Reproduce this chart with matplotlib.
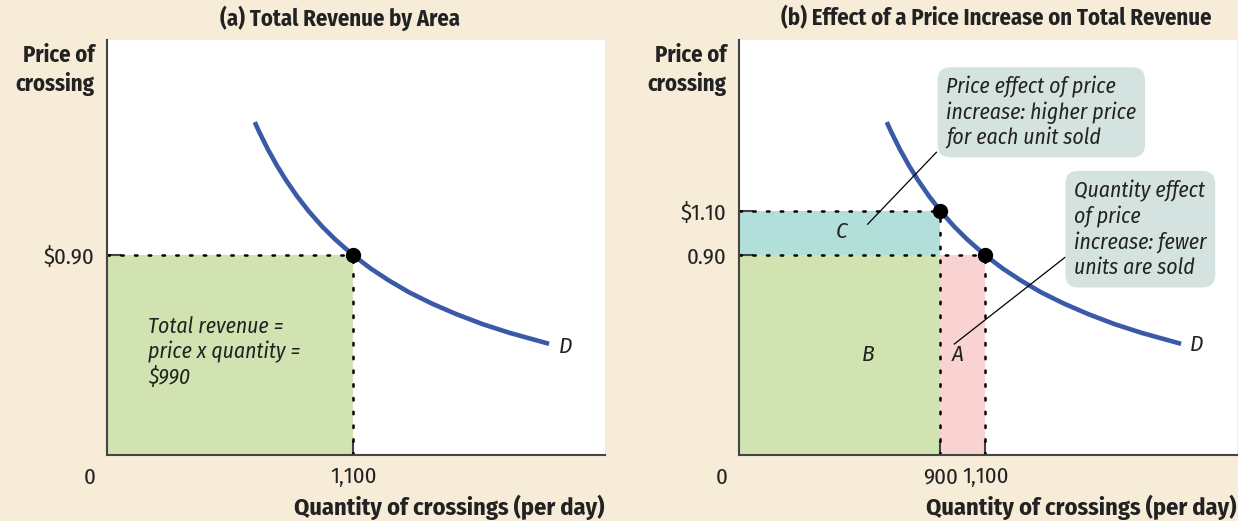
import matplotlib
matplotlib.use("Agg")
import matplotlib.pyplot as plt
from matplotlib import font_manager

# ---------------- data ----------------
demand_q = [660, 680, 720, 760, 800, 850, 900, 960, 1020, 1100, 1180, 1260,
            1350, 1450, 1560, 1680, 1800, 1975]
demand_p = [1.50, 1.456, 1.375, 1.303, 1.238, 1.165, 1.10, 1.031, 0.971, 0.90,
            0.839, 0.786, 0.733, 0.683, 0.635, 0.589, 0.55, 0.501]

q_low, q_high = 900, 1100
p_low, p_high = 0.90, 1.10

titles = ["(a) Total Revenue by Area",
          "(b) Effect of a Price Increase on Total Revenue"]
ylab = "Price of\ncrossing"
xlab = "Quantity of crossings (per day)"
revenue_text = "Total revenue =\nprice x quantity =\n$990"
box1_text = "Price effect of price\nincrease: higher price\nfor each unit sold"
box2_text = "Quantity effect\nof price\nincrease: fewer\nunits are sold"

# ---------------- style ----------------
names = {f.name for f in font_manager.fontManager.ttflist}
fams = [f for f in ["Fira Sans Condensed", "Roboto Condensed"] if f in names]
plt.rcParams["font.family"] = fams[:1] + ["DejaVu Sans"]
FS_T = 16.3     # titles / y label
FS_X = 17.5     # x label
FS_I = 15.6     # italic annotations
FS_K = 16.5     # tick labels

BG = "#f6ecd8"
GREEN = "#d0e3b0"
CYAN = "#b2dfda"
PINK = "#f9d3d2"
BOX = "#d5e3e0"
BLUE = "#3a5aa8"
SPINE = "#444444"
TXT = "#222222"

W, H = 1238, 521
fig = plt.figure(figsize=(W / 100, H / 100), dpi=100, facecolor=BG)

XMAX, YMAX = 2225, 1.87


def make_axes(left_px):
    ax = fig.add_axes([left_px / W, (H - 455) / H, 498 / W, 415 / H])
    ax.set_xlim(0, XMAX)
    ax.set_ylim(0, YMAX)
    ax.set_facecolor("white")
    for s in ["top", "right"]:
        ax.spines[s].set_visible(False)
    for s in ["left", "bottom"]:
        ax.spines[s].set_color(SPINE)
        ax.spines[s].set_linewidth(1.5)
        ax.spines[s].set_zorder(6)
    ax.tick_params(direction="in", length=10, width=1.5, color=SPINE,
                   labelsize=FS_K, labelcolor=TXT)
    ax.tick_params(axis="x", pad=8)
    ax.tick_params(axis="y", pad=9)
    ax.text(-0.035, -0.055, "0", transform=ax.transAxes, ha="center", va="center",
            fontsize=FS_K, color=TXT)
    ax.text(1.0, -0.125, xlab, transform=ax.transAxes, ha="right", va="center",
            fontsize=FS_X, fontweight="bold", color=TXT)
    ax.text(-0.025, 0.99, ylab, transform=ax.transAxes, ha="right", va="top",
            fontsize=FS_T, fontweight="bold", color=TXT, linespacing=1.25)
    return ax


dot_kw = dict(color="black", linestyle=(0, (1, 4.5)), linewidth=1.8,
              dash_capstyle="round", zorder=4)

# ---------------- panel (a) ----------------
axa = make_axes(107)
axa.fill_between([0, q_high], 0, p_low, color=GREEN, linewidth=0, zorder=1)
axa.plot([0, q_high], [p_low, p_low], **dot_kw)
axa.plot([q_high, q_high], [0, p_low], **dot_kw)
axa.plot(demand_q, demand_p, color=BLUE, linewidth=3.3, solid_capstyle="butt", zorder=3)
axa.plot([q_high], [p_low], "o", color="black", markersize=10, zorder=5)
axa.set_xticks([q_high])
axa.set_xticklabels(["1,100"])
axa.set_yticks([p_low])
axa.set_yticklabels(["$0.90"])
axa.text(2048, 0.486, "D", fontsize=FS_K, style="italic", ha="center", va="center", color=TXT)
axa.text(183, 0.464, revenue_text, fontsize=FS_I, style="italic", ha="left",
         va="center", linespacing=1.2, color=TXT)

# ---------------- panel (b) ----------------
axb = make_axes(739)
axb.fill_between([0, q_low], 0, p_low, color=GREEN, linewidth=0, zorder=1)
axb.fill_between([0, q_low], p_low, p_high, color=CYAN, linewidth=0, zorder=1)
axb.fill_between([q_low, q_high], 0, p_low, color=PINK, linewidth=0, zorder=1)
axb.plot([0, q_low], [p_high, p_high], **dot_kw)
axb.plot([0, q_high], [p_low, p_low], **dot_kw)
axb.plot([q_low, q_low], [0, p_high], **dot_kw)
axb.plot([q_high, q_high], [0, p_low], **dot_kw)
axb.plot(demand_q, demand_p, color=BLUE, linewidth=3.3, solid_capstyle="butt", zorder=3)
axb.plot([q_low, q_high], [p_high, p_low], "o", color="black", markersize=10,
         linestyle="none", zorder=5)
axb.set_xticks([q_low, q_high])
axb.set_xticklabels(["900", "1,100"])
axb.set_yticks([p_low, p_high])
axb.set_yticklabels(["0.90", "$1.10"])
axb.text(2045, 0.495, "D", fontsize=FS_K, style="italic", ha="center", va="center", color=TXT)
axb.text(459, 1.004, "C", fontsize=FS_K, style="italic", ha="center", va="center", color=TXT)
axb.text(575, 0.45, "B", fontsize=FS_K, style="italic", ha="center", va="center", color=TXT)
axb.text(975, 0.45, "A", fontsize=FS_K, style="italic", ha="center", va="center", color=TXT)

# leader lines
axb.plot([882, 575], [1.364, 1.04], color="black", linewidth=0.9, zorder=4)
axb.plot([1457, 962], [0.891, 0.50], color="black", linewidth=0.9, zorder=4)

box_kw = dict(boxstyle="round,pad=0.4,rounding_size=0.6", fc=BOX, ec="none")
axb.text(926, 1.544, box1_text, fontsize=FS_I, style="italic", ha="left",
         va="center", linespacing=1.18, color=TXT, bbox=box_kw, zorder=7)
axb.text(1497, 1.017, box2_text, fontsize=FS_I, style="italic", ha="left",
         va="center", linespacing=1.22, color=TXT, bbox=box_kw, zorder=7)

# ---------------- titles ----------------
fig.text(340 / W, 1 - 18 / H, titles[0], ha="center", va="center",
         fontsize=FS_T, fontweight="bold", color=TXT)
fig.text(996 / W, 1 - 18 / H, titles[1], ha="center", va="center",
         fontsize=FS_T, fontweight="bold", color=TXT)

fig.savefig("out.png", dpi=100, facecolor=BG)
